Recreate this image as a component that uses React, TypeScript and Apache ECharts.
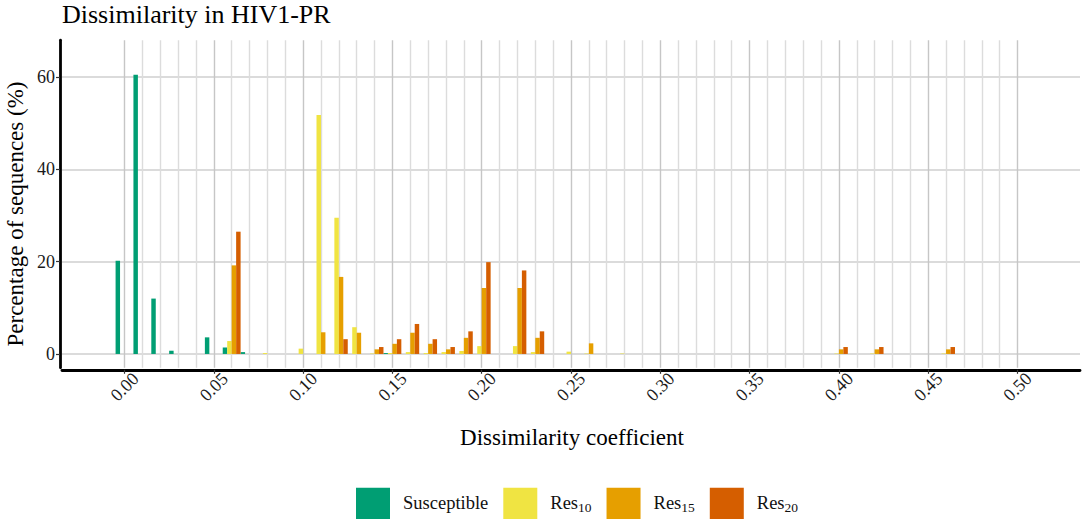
import React, { useEffect, useRef } from "react";
import * as echarts from "echarts";

const FONT = "'Liberation Serif', 'Times New Roman', serif";

// bar bins (centres), -0.03 .. 0.53 in steps of 0.01
const binCategories = Array.from({ length: 57 }, (_, i) => ((i - 3) / 100).toFixed(2));
const FIRST_DATA_BIN = 3; // index of "0.00"

// values for bins 0.00 .. 0.47 (percentage of sequences)
const susceptible = [
  20.2, 60.5, 12.0, 0.7, 0, 3.6, 1.4, 0.4, 0, 0,
  0, 0, 0, 0, 0, 0.2, 0, 0, 0, 0,
  0, 0, 0, 0, 0, 0, 0, 0, 0, 0,
  0, 0, 0, 0, 0, 0, 0, 0, 0, 0,
  0, 0, 0, 0, 0, 0, 0, 0,
];
const res10 = [
  0, 0, 0, 0, 0, 0, 2.8, 0, 0.2, 0,
  1.15, 51.8, 29.5, 5.8, 0.1, 0.2, 0.4, 0.2, 0.4, 0.65,
  1.7, 0, 1.7, 0.4, 0, 0.5, 0.1, 0, 0.1, 0,
  0, 0, 0, 0, 0, 0, 0, 0, 0, 0,
  0.1, 0, 0.1, 0, 0, 0, 0.1, 0,
];
const res15 = [
  0, 0, 0, 0, 0, 0, 19.2, 0, 0, 0,
  0, 4.7, 16.7, 4.6, 1.0, 2.2, 4.6, 2.2, 1.0, 3.5,
  14.3, 0, 14.3, 3.5, 0, 0, 2.3, 0, 0, 0,
  0, 0, 0, 0, 0, 0, 0, 0, 0, 0,
  1.0, 0, 1.0, 0, 0, 0, 1.0, 0,
];
const res20 = [
  0, 0, 0, 0, 0, 0, 26.5, 0, 0, 0,
  0, 0, 3.2, 0, 1.5, 3.2, 6.5, 3.2, 1.5, 4.9,
  19.9, 0, 18.1, 4.9, 0, 0, 0, 0, 0, 0,
  0, 0, 0, 0, 0, 0, 0, 0, 0, 0,
  1.5, 0, 1.5, 0, 0, 0, 1.5, 0,
];

const seriesNames = ["Susceptible", "Res10", "Res15", "Res20"];
const seriesColors = ["#009E73", "#F0E442", "#E69F00", "#D55E00"];
const seriesValues = [susceptible, res10, res15, res20];

const xTickLabels = ["0.00", "0.05", "0.10", "0.15", "0.20", "0.25", "0.30", "0.35", "0.40", "0.45", "0.50"];
const yTickLabels = ["0", "20", "40", "60"];

// fine reference axes used for ticks / grid lines
const fineX = Array.from({ length: 115 }, (_, i) => ((i - 7) * 0.005).toFixed(3)); // -0.035 .. 0.535
const fineY = Array.from({ length: 72 }, (_, i) => String(i - 3)); // -3 .. 68

const isMajorX = (index: number) => {
  const k = index - 7;
  return k % 2 === 0 && xTickLabels.includes((k * 0.005).toFixed(2));
};
const isMinorX = (index: number) => {
  const k = index - 7;
  return k % 2 === 0 && k >= 0 && k <= 100;
};
const isMajorY = (_: number, value: string) => yTickLabels.includes(value);

function padToBins(values: number[]) {
  return binCategories.map((_, i) => {
    const j = i - FIRST_DATA_BIN;
    return j >= 0 && j < values.length ? values[j] : 0;
  });
}

export default function App() {
  const ref = useRef<HTMLDivElement>(null);
  useEffect(() => {
    if (!ref.current) return;
    const chart = echarts.init(ref.current, null, { renderer: "svg" });
    const option: any = {
      animation: false,
      backgroundColor: "#ffffff",
      title: {
        text: "Dissimilarity in HIV1-PR",
        left: 62,
        top: 1,
        padding: 0,
        textStyle: { fontFamily: FONT, fontSize: 26, fontWeight: "normal", color: "#000" },
      },
      grid: { left: 62, top: 40.2, width: 1018, height: 327.6, containLabel: false },
      legend: {
        data: seriesNames,
        left: 351,
        top: 482.7,
        itemWidth: 34,
        itemHeight: 34,
        itemGap: 15,
        icon: "rect",
        selectedMode: false,
        formatter: (name: string) =>
          name === "Susceptible" ? "{m|Susceptible}" : `{m|Res}{s|${name.slice(3)}}`,
        textStyle: {
          fontFamily: FONT,
          fontSize: 18.5,
          color: "#111",
          padding: [0, 0, 0, 8],
          rich: {
            m: { fontFamily: FONT, fontSize: 18.5, color: "#111", lineHeight: 20, padding: [0, 0, 2, 0], verticalAlign: "bottom" },
            s: { fontFamily: FONT, fontSize: 13.5, color: "#111", lineHeight: 14, verticalAlign: "bottom" },
          },
        },
      },
      xAxis: [
        {
          type: "category",
          data: binCategories,
          boundaryGap: true,
          show: false,
        },
        {
          type: "category",
          data: fineX,
          boundaryGap: false,
          position: "bottom",
          offset: 2,
          axisLine: { show: true, onZero: false, lineStyle: { color: "#000", width: 2.8 } },
          axisTick: { show: true, interval: isMajorX, length: 4, lineStyle: { color: "#333", width: 1.2 } },
          axisLabel: {
            show: true,
            interval: isMajorX,
            rotate: 45,
            align: "center",
            verticalAlign: "middle",
            margin: 17,
            fontFamily: FONT,
            fontSize: 18,
            color: "#1a1a1a",
            formatter: (v: string) => Number(v).toFixed(2),
          },
          splitLine: {
            show: true,
            interval: isMinorX,
            lineStyle: { color: ["#c6c6c6", "#dcdcdc", "#dcdcdc", "#dcdcdc", "#dcdcdc"], width: 1.4 },
          },
        },
      ],
      yAxis: [
        {
          type: "value",
          min: -3,
          max: 68,
          show: false,
          splitLine: { show: false },
        },
        {
          type: "category",
          data: fineY,
          boundaryGap: false,
          position: "left",
          offset: 2,
          axisLine: { show: true, onZero: false, lineStyle: { color: "#000", width: 2.8 } },
          axisTick: { show: true, interval: isMajorY, length: 4, lineStyle: { color: "#333", width: 1.2 } },
          axisLabel: { show: true, interval: isMajorY, margin: 5, fontFamily: FONT, fontSize: 18, color: "#1a1a1a" },
          splitLine: { show: true, interval: isMajorY, lineStyle: { color: "#cfcfcf", width: 1.5 } },
        },
      ],
      graphic: [
        {
          type: "text",
          x: 15,
          y: 214,
          rotation: Math.PI / 2,
          style: {
            text: "Percentage of sequences (%)",
            fontFamily: FONT,
            fontSize: 23,
            fill: "#000",
            align: "center",
            verticalAlign: "middle",
          },
        },
        {
          type: "text",
          x: 572,
          y: 437,
          style: {
            text: "Dissimilarity coefficient",
            fontFamily: FONT,
            fontSize: 23,
            fill: "#000",
            align: "center",
            verticalAlign: "middle",
          },
        },
      ],
      series: seriesNames.map((name, i) => ({
        name,
        type: "bar",
        xAxisIndex: 0,
        yAxisIndex: 0,
        data: padToBins(seriesValues[i]),
        barGap: "0%",
        barCategoryGap: "0%",
        itemStyle: { color: seriesColors[i] },
        emphasis: { disabled: true },
      })),
    };
    chart.setOption(option);
    return () => chart.dispose();
  }, []);
  return (
    <div
      ref={ref}
      style={{ position: "absolute", left: 0, top: 0, width: 1084, height: 519 }}
    />
  );
}
